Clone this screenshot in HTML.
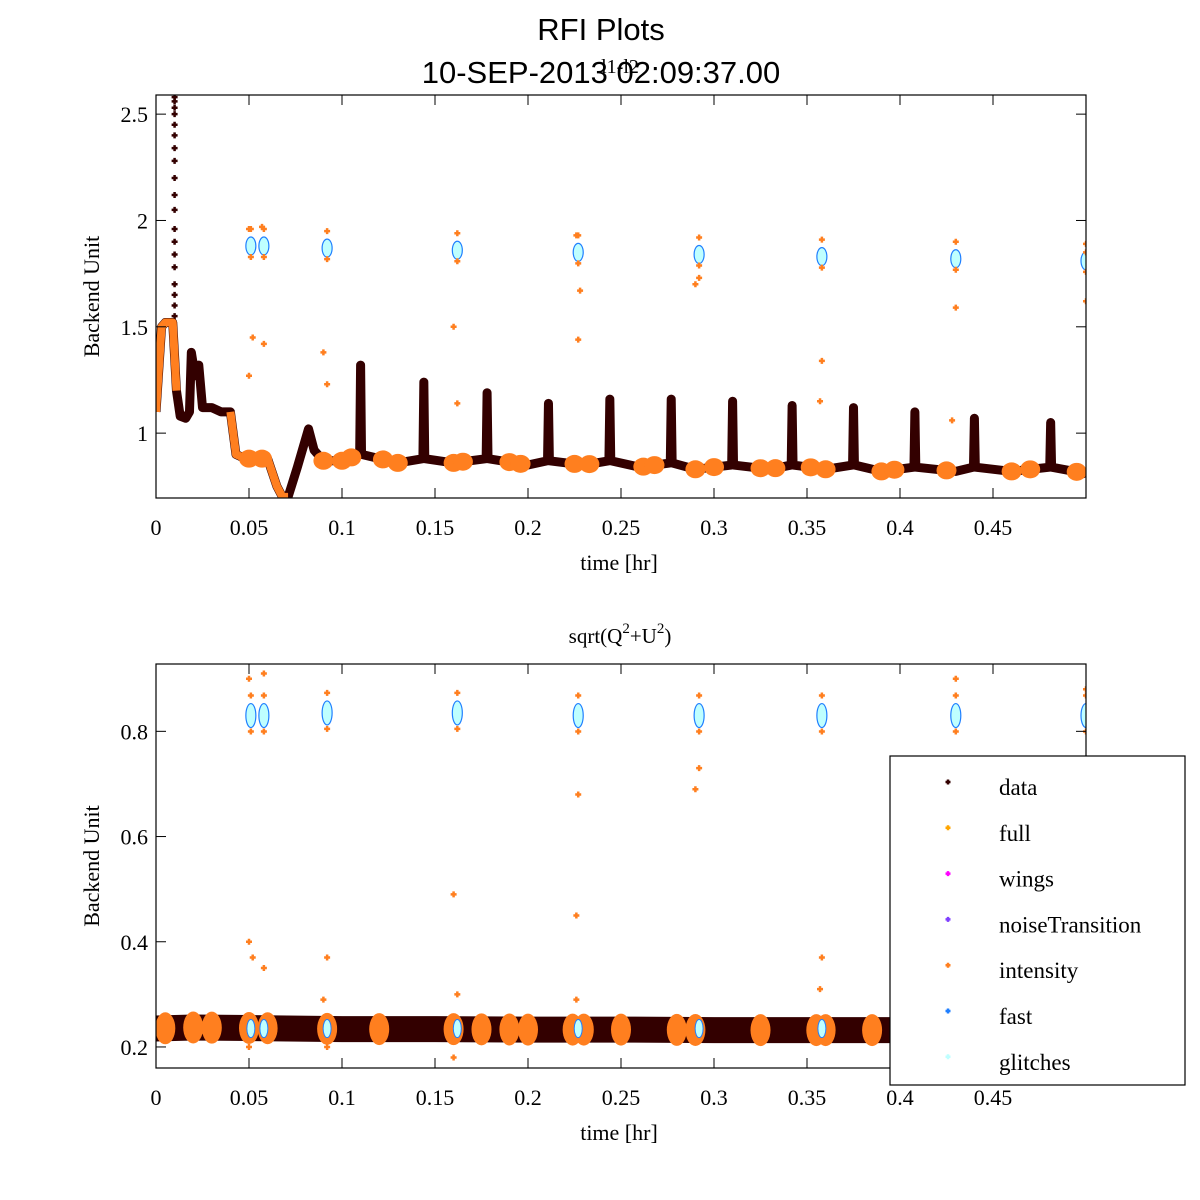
<!DOCTYPE html>
<html><head><meta charset="utf-8"><style>
html,body{margin:0;padding:0;background:#fff;width:1200px;height:1200px;overflow:hidden}
svg text{font-family:"Liberation Serif",serif;fill:#000}
</style></head><body>
<svg id="c" width="1200" height="1200" xmlns="http://www.w3.org/2000/svg">
<text x="601" y="40" text-anchor="middle" style="font-family:'Liberation Sans',sans-serif;font-size:31px">RFI Plots</text>
<text x="601" y="83" text-anchor="middle" style="font-family:'Liberation Sans',sans-serif;font-size:31px">10-SEP-2013 02:09:37.00</text>
<text x="620" y="73" text-anchor="middle" style="font-size:20px">l1-l2</text>
<text x="620" y="643" text-anchor="middle" style="font-size:21px">sqrt(Q<tspan dy="-10" font-size="15">2</tspan><tspan dy="10">+U</tspan><tspan dy="-10" font-size="15">2</tspan><tspan dy="10">)</tspan></text>
<g id="top"></g><g id="bot"></g><g id="leg"></g>
</svg>
<script>
// ---- data (top panel: l1-l2) ----
const topTimes = [0,0.003,0.005,0.009,0.011,0.013,0.016,0.018,0.019,0.021,0.023,0.025,0.03,0.035,0.04,0.043,0.048,0.06,0.065,0.068,0.071,0.076,0.082,0.085,0.09,0.1,0.1095,0.11,0.1105,0.13,0.1435,0.144,0.1445,0.16,0.1775,0.178,0.1785,0.2,0.2105,0.211,0.2115,0.23,0.2435,0.244,0.2445,0.26,0.2765,0.277,0.2775,0.29,0.3095,0.31,0.3105,0.33,0.3415,0.342,0.3425,0.36,0.3745,0.375,0.3755,0.39,0.4075,0.408,0.4085,0.43,0.4395,0.44,0.4405,0.46,0.4805,0.481,0.4815,0.5];
const topValues = [1.1,1.5,1.52,1.52,1.2,1.08,1.07,1.1,1.38,1.27,1.32,1.12,1.12,1.1,1.1,0.9,0.88,0.88,0.75,0.7,0.7,0.84,1.02,0.92,0.87,0.87,0.9,1.32,0.9,0.86,0.88,1.24,0.88,0.86,0.88,1.19,0.88,0.85,0.87,1.14,0.87,0.85,0.87,1.16,0.87,0.84,0.86,1.16,0.86,0.83,0.85,1.15,0.85,0.83,0.85,1.13,0.85,0.83,0.85,1.12,0.85,0.82,0.84,1.1,0.84,0.82,0.84,1.07,0.84,0.82,0.84,1.05,0.84,0.81];
const topSpikeTime = 0.01;
const topSpikeValues = [1.55,1.6,1.65,1.7,1.78,1.84,1.9,1.96,2.05,2.12,2.2,2.28,2.34,2.4,2.45,2.5,2.53,2.56,2.58];
const topOrangeRanges = [[0,0.011],[0.036,0.071]];
const topBlobTimes = [0.05,0.057,0.09,0.1,0.105,0.122,0.13,0.16,0.165,0.19,0.196,0.225,0.233,0.262,0.268,0.29,0.3,0.325,0.333,0.352,0.36,0.39,0.397,0.425,0.46,0.47,0.495];
const clusterTimes = [0.051,0.058,0.092,0.162,0.227,0.292,0.358,0.43,0.5];
const topClusterValues = [1.88,1.88,1.87,1.86,1.85,1.84,1.83,1.82,1.81];
const topOutlierTimes = [0.05,0.052,0.058,0.05,0.057,0.09,0.092,0.16,0.162,0.226,0.227,0.228,0.29,0.292,0.358,0.357,0.43,0.428,0.5,0.5];
const topOutlierValues = [1.27,1.45,1.42,1.96,1.97,1.38,1.23,1.5,1.14,1.93,1.44,1.67,1.7,1.73,1.34,1.15,1.59,1.06,1.62,1.85];
// ---- data (bottom panel: sqrt(Q^2+U^2)) ----
const botTimes = [0,0.02,0.05,0.1,0.15,0.2,0.25,0.3,0.35,0.4,0.45,0.5];
const botValues = [0.235,0.237,0.236,0.234,0.234,0.233,0.233,0.232,0.232,0.232,0.232,0.232];
const botBlobTimes = [0.005,0.02,0.03,0.05,0.06,0.092,0.12,0.16,0.175,0.19,0.2,0.224,0.23,0.25,0.28,0.29,0.325,0.355,0.36,0.385,0.425,0.43,0.47,0.49];
const botClusterValues = [0.83,0.83,0.835,0.835,0.83,0.83,0.83,0.83,0.83];
const botOutlierTimes = [0.05,0.052,0.058,0.05,0.058,0.09,0.092,0.16,0.162,0.226,0.227,0.226,0.29,0.292,0.358,0.357,0.43,0.5,0.05,0.092,0.16,0.225];
const botOutlierValues = [0.4,0.37,0.35,0.9,0.91,0.29,0.37,0.49,0.3,0.45,0.68,0.29,0.69,0.73,0.37,0.31,0.9,0.88,0.2,0.2,0.18,0.21];
const xTicks = [0,0.05,0.1,0.15,0.2,0.25,0.3,0.35,0.4,0.45];
const xTickLabels = ["0","0.05","0.1","0.15","0.2","0.25","0.3","0.35","0.4","0.45"];
const topYTicks = [1,1.5,2,2.5];
const topYTickLabels = ["1","1.5","2","2.5"];
const botYTicks = [0.2,0.4,0.6,0.8];
const botYTickLabels = ["0.2","0.4","0.6","0.8"];
const legendLabels = ["data","full","wings","noiseTransition","intensity","fast","glitches"];
const legendColors = ["#330000","#ffa500","#ff00ff","#7f3fff","#ff7f1f","#1f7fff","#bfffff"];

const NS="http://www.w3.org/2000/svg";
function mk(parent,tag,attrs){const e=document.createElementNS(NS,tag);for(const k in attrs)e.setAttribute(k,attrs[k]);parent.appendChild(e);return e;}
const X0=156,X1=1086;
function xs(t){return X0+(t/0.5)*(X1-X0);}
function interp(ts,vs,t){for(let i=1;i<ts.length;i++){if(t<=ts[i]){const f=(t-ts[i-1])/(ts[i]-ts[i-1]);return vs[i-1]+f*(vs[i]-vs[i-1]);}}return vs[vs.length-1];}
const DARK="#330000",OR="#ff7f1f",CY="#bfffff",BL="#1f7fff";

function axes(g,yTop,yBot,ys,yt,ytl,name){
  const clipId=name+"-clip";
  const cp=mk(g,"clipPath",{id:clipId});mk(cp,"rect",{x:X0,y:yTop,width:X1-X0,height:yBot-yTop});
  const plot=mk(g,"g",{"clip-path":"url(#"+clipId+")"});
  
  
  const fr=mk(g,"rect",{x:X0,y:yTop,width:X1-X0,height:yBot-yTop,fill:"none",stroke:"#000","stroke-width":1.2});
  
  
  xTicks.forEach((t,i)=>{const x=xs(t);
    mk(g,"line",{x1:x,x2:x,y1:yBot,y2:yBot-10,stroke:"#000"});mk(g,"line",{x1:x,x2:x,y1:yTop,y2:yTop+10,stroke:"#000"});
    const tx=mk(g,"text",{x:x,y:yBot+37,"text-anchor":"middle","font-size":"22"});tx.textContent=xTickLabels[i];
    
    });
  yt.forEach((v,i)=>{const y=ys(v);
    mk(g,"line",{x1:X0,x2:X0+10,y1:y,y2:y,stroke:"#000"});mk(g,"line",{x1:X1,x2:X1-10,y1:y,y2:y,stroke:"#000"});
    const tx=mk(g,"text",{x:X0-8,y:y+8,"text-anchor":"end","font-size":"22"});tx.textContent=ytl[i];
    
    });
  const xl=mk(g,"text",{x:619,y:yBot+72,"text-anchor":"middle","font-size":"22"});xl.textContent="time [hr]";
  
  
  const cy=(yTop+yBot)/2;
  const yl=mk(g,"text",{x:99,y:cy,"text-anchor":"middle","font-size":"22",transform:"rotate(-90 99 "+cy+")"});yl.textContent="Backend Unit";
  
  
  return plot;
}
function cross(g,x,y,c,s){return mk(g,"path",{d:`M${x-s} ${y}H${x+s}M${x} ${y-s}V${y+s}`,stroke:c,"stroke-width":2.5});}

// ---- top panel ----
const tT=95,tB=498,tys=v=>tT+(2.59-v)/(2.59-0.695)*(tB-tT);
const tp=axes(document.getElementById("top"),tT,tB,tys,topYTicks,topYTickLabels,"top");
const tLine=mk(tp,"polyline",{points:topTimes.map((t,i)=>xs(t)+","+tys(topValues[i])).join(" "),fill:"none",stroke:DARK,"stroke-width":9,"stroke-linejoin":"round"});


topSpikeValues.forEach(v=>{const p=cross(tp,xs(topSpikeTime),tys(v),DARK,3);
  
  });
topOrangeRanges.forEach(r=>{const pts=[];for(let i=0;i<topTimes.length;i++){if(topTimes[i]>=r[0]&&topTimes[i]<=r[1])pts.push(xs(topTimes[i])+","+tys(topValues[i]));}
  const l=mk(tp,"polyline",{points:pts.join(" "),fill:"none",stroke:OR,"stroke-width":8,"stroke-linejoin":"round"});
  
  });
topBlobTimes.forEach(t=>{const v=interp(topTimes,topValues,t);
  const e=mk(tp,"ellipse",{cx:xs(t),cy:tys(v),rx:10,ry:9,fill:OR});
  
  });
clusterTimes.forEach((t,i)=>{const x=xs(t),y=tys(topClusterValues[i]);
  const e=mk(tp,"ellipse",{cx:x,cy:y,rx:5,ry:9,fill:CY,stroke:BL,"stroke-width":1.2});
  
  
  cross(tp,x,y-17,OR,3);cross(tp,x,y+11,OR,3);});
topOutlierTimes.forEach((t,i)=>{const p=cross(tp,xs(t),tys(topOutlierValues[i]),OR,3);
  
  });

// ---- bottom panel ----
const bT=664,bB=1068,bys=v=>bT+(0.928-v)/(0.928-0.16)*(bB-bT);
const bp=axes(document.getElementById("bot"),bT,bB,bys,botYTicks,botYTickLabels,"bottom");
const bLine=mk(bp,"polyline",{points:botTimes.map((t,i)=>xs(t)+","+bys(botValues[i])).join(" "),fill:"none",stroke:DARK,"stroke-width":26});


botBlobTimes.forEach(t=>{const v=interp(botTimes,botValues,t);
  const e=mk(bp,"ellipse",{cx:xs(t),cy:bys(v),rx:10,ry:16,fill:OR});
  
  });
clusterTimes.forEach((t,i)=>{const x=xs(t),y=bys(botClusterValues[i]);
  const e=mk(bp,"ellipse",{cx:x,cy:y,rx:5,ry:12,fill:CY,stroke:BL,"stroke-width":1.2});
  
  
  cross(bp,x,y-20,OR,3);cross(bp,x,y+16,OR,3);
  const e2=mk(bp,"ellipse",{cx:x,cy:bys(botValues[0]),rx:4,ry:9,fill:CY,stroke:BL,"stroke-width":1});
  
  });
botOutlierTimes.forEach((t,i)=>{const p=cross(bp,xs(t),bys(botOutlierValues[i]),OR,3);
  
  });

// ---- legend ----
const lg=document.getElementById("leg");


mk(lg,"rect",{x:890,y:756,width:295,height:329,fill:"#fff",stroke:"#000","stroke-width":1.2});
legendLabels.forEach((lab,i)=>{const y=788+i*45.8;
  const g=mk(lg,"g",{});
  
  
  cross(g,948,y-6,legendColors[i],2.5);
  const t=mk(g,"text",{x:999,y:y+7,"font-size":"23"});t.textContent=lab;});
</script>
</body></html>
